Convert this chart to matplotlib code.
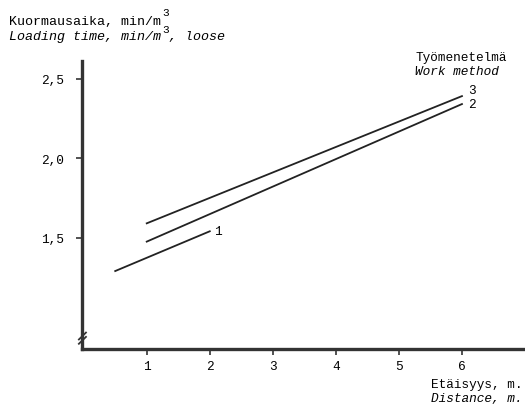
import matplotlib.pyplot as plt

line1_x = [0.5, 2.0]
line1_y = [1.29, 1.54]
line2_x = [1.0, 6.0]
line2_y = [1.475, 2.34]
line3_x = [1.0, 6.0]
line3_y = [1.59, 2.39]
x_ticks = [1, 2, 3, 4, 5, 6]
y_ticks = [1.5, 2.0, 2.5]
y_tick_labels = ['1,5', '2,0', '2,5']

mono = 'Liberation Mono'
fs = 9.2
W, H = 525, 406


def ftext(px, py, s, **kw):
    # place text by pixel position (baseline) on the figure
    fig.text(px / W, 1 - py / H, s, fontfamily=mono, fontsize=kw.pop('size', fs),
             va='baseline', **kw)


fig = plt.figure(figsize=(5.25, 4.06), dpi=100)
ax = fig.add_axes([0.157, 0.138, 0.843, 0.709])

for xs, ys in [(line1_x, line1_y), (line2_x, line2_y), (line3_x, line3_y)]:
    ax.plot(xs, ys, color='#222222', linewidth=1.3)

ax.set_xlim(-0.02, 7.0)
ax.set_ylim(0.80, 2.61)

ax.spines['top'].set_visible(False)
ax.spines['right'].set_visible(False)
for s in ['left', 'bottom']:
    ax.spines[s].set_linewidth(2.4)
    ax.spines[s].set_color('#333333')

ax.set_xticks(x_ticks)
ax.set_xticklabels([str(v) for v in x_ticks], fontfamily=mono, fontsize=fs)
ax.set_yticks(y_ticks)
ax.set_yticklabels(y_tick_labels, fontfamily=mono, fontsize=fs)
ax.tick_params(axis='both', direction='out', length=4, width=1.2,
               color='#333333')
ax.tick_params(axis='x', pad=4)
ax.tick_params(axis='y', pad=9)

# axis break mark
for dy in (0.030, 0.045):
    ax.plot([-0.008, 0.008], [dy - 0.012, dy + 0.012], transform=ax.transAxes,
            color='#333333', linewidth=1.3, clip_on=False)

# line labels
ax.text(6.1, 2.39, '3', fontfamily=mono, fontsize=fs, ha='left', va='bottom')
ax.text(6.1, 2.34, '2', fontfamily=mono, fontsize=fs, ha='left', va='center')
ax.text(2.07, 1.54, '1', fontfamily=mono, fontsize=fs, ha='left', va='center')

# titles (superscript 3 typed between the lines, as on the original)
ftext(9, 25, 'Kuormausaika, min/m', size=9.6)
ftext(162, 16, '3', size=8)
ftext(9, 40, 'Loading time, min/m', size=9.6, style='italic')
ftext(162, 33, '3', size=8)
ftext(169, 40, ', loose', size=9.6, style='italic')
ftext(415, 61, 'Työmenetelmä')
ftext(415, 75, 'Work method', style='italic')
ftext(431, 388, 'Etäisyys, m.')
ftext(431, 402, 'Distance, m.', style='italic')

fig.savefig('out.png', dpi=100)
